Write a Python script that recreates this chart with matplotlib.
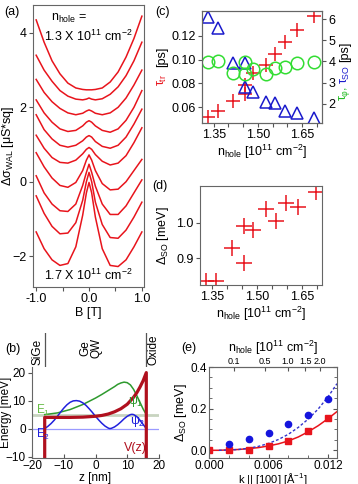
import matplotlib
matplotlib.use("Agg")
import matplotlib.pyplot as plt
import numpy as np

plt.rcParams['font.family'] = ['Liberation Sans', 'DejaVu Sans']
plt.rcParams['font.size'] = 9
plt.rcParams['mathtext.fontset'] = 'custom'
plt.rcParams['mathtext.rm'] = 'Liberation Sans'
plt.rcParams['mathtext.it'] = 'Liberation Sans'
plt.rcParams['axes.edgecolor'] = '#666666'
plt.rcParams['xtick.color'] = '#555555'
plt.rcParams['ytick.color'] = '#555555'
plt.rcParams['xtick.labelcolor'] = 'black'
plt.rcParams['ytick.labelcolor'] = 'black'
plt.rcParams['xtick.major.pad'] = 1.5
plt.rcParams['ytick.major.pad'] = 1.5
plt.rcParams['xtick.major.size'] = 3
plt.rcParams['ytick.major.size'] = 3

# ---- (a) WAL curves, top (1.3e11) to bottom (1.7e11)
b_field = [-1.0, -0.85, -0.7, -0.55, -0.4, -0.25, -0.12, -0.05, 0.0,
           0.05, 0.12, 0.25, 0.4, 0.55, 0.7, 0.85, 1.0]
wal_curves = [
    [4.35, 3.75, 3.25, 2.9, 2.65, 2.52, 2.48, 2.47, 2.47, 2.47, 2.48, 2.52, 2.68, 2.95, 3.35, 3.85, 4.45],
    [3.4, 3.0, 2.7, 2.45, 2.3, 2.22, 2.2, 2.22, 2.25, 2.22, 2.2, 2.23, 2.35, 2.55, 2.85, 3.25, 3.75],
    [2.75, 2.4, 2.15, 1.97, 1.85, 1.8, 1.84, 1.9, 1.93, 1.9, 1.84, 1.8, 1.85, 2.0, 2.25, 2.6, 3.0],
    [2.2, 1.85, 1.6, 1.42, 1.35, 1.38, 1.5, 1.6, 1.64, 1.6, 1.5, 1.38, 1.33, 1.42, 1.65, 2.0, 2.45],
    [1.8, 1.4, 1.15, 0.98, 0.93, 0.98, 1.1, 1.2, 1.24, 1.2, 1.08, 0.95, 0.9, 0.98, 1.2, 1.55, 1.95],
    [1.25, 0.9, 0.65, 0.52, 0.5, 0.58, 0.75, 0.87, 0.92, 0.87, 0.73, 0.55, 0.45, 0.5, 0.7, 1.05, 1.45],
    [0.78, 0.4, 0.1, -0.1, -0.15, -0.02, 0.3, 0.58, 0.72, 0.58, 0.3, -0.05, -0.22, -0.2, 0.0, 0.3, 0.6],
    [0.16, -0.3, -0.6, -0.78, -0.8, -0.6, -0.1, 0.25, 0.47, 0.25, -0.12, -0.6, -0.88, -0.88, -0.65, -0.3, 0.05],
    [-0.38, -0.85, -1.2, -1.4, -1.38, -1.1, -0.5, 0.0, 0.25, 0.0, -0.55, -1.15, -1.5, -1.52, -1.3, -0.95, -0.55],
    [-1.35, -1.8, -2.1, -2.25, -2.2, -1.75, -0.9, -0.3, -0.02, -0.3, -0.95, -1.8, -2.25, -2.28, -2.1, -1.75, -1.35],
]

# ---- (c) scattering times vs density
n_c = [1.329, 1.363, 1.415, 1.456, 1.456, 1.482, 1.527, 1.558, 1.592, 1.634, 1.690]
tau_tr = [0.0518, 0.0566, 0.0653, 0.0707, 0.0786, 0.0889, 0.0954, 0.1047, 0.1146, 0.1247, 0.1371]
tau_so = [6.11, 5.56, 3.91, 3.94, 2.78, 2.54, 2.10, 2.02, 1.67, 1.58, 1.34]
tau_phi = [3.96, 4.03, 3.47, 3.99, 3.41, 3.63, 3.41, 3.70, 3.75, 3.94, 3.96]

# ---- (d) spin splitting vs density
n_d = [1.328, 1.361, 1.415, 1.456, 1.457, 1.485, 1.528, 1.562, 1.596, 1.636, 1.696]
delta_so = [0.837, 0.837, 0.928, 0.888, 0.991, 0.980, 1.038, 1.005, 1.056, 1.043, 1.085]

# ---- (b) potential and wavefunctions
z_v = [-16, -16, -12, -8, -4, 0, 2, 4, 6, 8, 10, 12, 13, 14, 15, 16, 16]
v_z = [-10.5, 4.0, 4.0, 4.0, 4.1, 4.4, 4.7, 5.2, 6.0, 7.1, 8.7, 11.2, 12.8, 14.8, 17.1, 20.0, -10.5]
z_psi1 = [-16, -12, -8, -4, 0, 2, 4, 6, 7, 8, 9, 10, 11, 12, 13, 14, 15, 16]
psi1 = [5.0, 5.6, 6.8, 8.6, 10.9, 12.2, 13.6, 15.0, 15.8, 16.3, 16.6, 16.4, 15.6, 14.0, 11.8, 9.4, 7.0, 5.0]
z_psi2 = [-16, -15, -14, -13, -12, -11, -10, -9, -8, -7, -6, -5, -4, -3, -2, -1, 0, 1, 2, 3, 4, 4.5,
          5, 6, 7, 8, 9, 10, 11, 11.5, 12, 13, 14, 15, 16]
psi2 = [0.0, 0.8, 1.8, 3.0, 4.4, 5.9, 7.3, 8.5, 9.4, 9.9, 10.0, 9.8, 9.2, 8.3, 7.1, 5.8, 4.4, 3.1, 1.9, 0.9, 0.2, 0.0,
        0.1, 0.6, 1.4, 2.4, 3.5, 4.4, 5.0, 5.1, 5.0, 4.3, 3.0, 1.5, 0.0]
e1_level = 5.0
e2_level = 0.0

# ---- (e) spin splitting vs k
k_red = [0.0, 0.002, 0.004, 0.006, 0.008, 0.010, 0.012]
dso_red = [0.0, 0.0, 0.003, 0.023, 0.045, 0.095, 0.153]
k_blue = [0.002, 0.004, 0.006, 0.008, 0.010, 0.012]
dso_blue = [0.031, 0.052, 0.083, 0.126, 0.171, 0.245]
k_fit = [0.0, 0.001, 0.002, 0.003, 0.004, 0.005, 0.006, 0.007, 0.008, 0.009, 0.010, 0.011, 0.012, 0.0129]
fit_red = [0.0, 0.0, 0.002, 0.004, 0.008, 0.013, 0.021, 0.031, 0.045, 0.064, 0.089, 0.118, 0.152, 0.186]
k_fit_blue = [0.001, 0.002, 0.003, 0.004, 0.005, 0.006, 0.007, 0.008, 0.009, 0.010, 0.011, 0.012, 0.0129]
fit_blue = [0.0, 0.001, 0.004, 0.010, 0.019, 0.033, 0.052, 0.077, 0.110, 0.150, 0.198, 0.257, 0.320]
n_top_ticks = [0.1, 0.5, 1.0, 1.5, 2.0]

W, H = 358, 484
fig = plt.figure(figsize=(W / 100, H / 100), dpi=100)


def px_axes(x0, y0, x1, y1):
    return fig.add_axes([x0 / W, (H - y1) / H, (x1 - x0) / W, (y1 - y0) / H])


red = '#e8141c'

# ---------------- (a)
ax_a = px_axes(33, 5, 144, 287)
for vals in wal_curves:
    ax_a.plot(b_field, vals, color=red, lw=1.1)
ax_a.set_xlim(-1.06, 1.04)
ax_a.set_ylim(-2.83, 4.75)
ax_a.set_xticks([-1.0, -0.5, 0.0, 0.5, 1.0])
ax_a.set_xticklabels(['-1.0', '', '0.0', '', '1.0'])
ax_a.set_yticks([-2, 0, 2, 4])
ax_a.set_xlabel('B [T]', labelpad=1)
ax_a.set_ylabel(r'$\Delta\sigma_{\rm WAL}$ [$\mu$S*sq]')
ax_a.yaxis.set_label_coords(-0.155, 0.5)
ax_a.text(0.16, 0.975, r'n$_{\rm hole}$ =', transform=ax_a.transAxes, va='top')
ax_a.text(0.1, 0.915, r'1.3 X 10$^{11}$ cm$^{-2}$', transform=ax_a.transAxes, va='top')
ax_a.text(0.5, 0.015, r'1.7 X 10$^{11}$ cm$^{-2}$', transform=ax_a.transAxes, ha='center', va='bottom')
fig.text(4 / W, 1 - 12 / H, '(a)', va='center')

# ---------------- (c)
ax_c = px_axes(202, 11, 322, 123)
ax_c.plot(n_c, tau_tr, '+', color=red, ms=10, mew=1.1)
ax_c.set_xlim(1.31, 1.718)
ax_c.set_ylim(0.0465, 0.141)
ax_c.set_yticks([0.06, 0.08, 0.10, 0.12])
ax_c.set_yticklabels(['0.06', '0.08', '0.10', '0.12'])
ax_c.set_xticks(np.arange(1.35, 1.71, 0.05))
ax_c.set_xticklabels(['1.35', '', '', '1.50', '', '', '1.65', ''])
ax_c.set_xlabel(r'n$_{\rm hole}$ [10$^{11}$ cm$^{-2}$]', labelpad=1)
ax_c2 = ax_c.twinx()
ax_c2.plot(n_c, tau_so, '^', mfc='none', mec='#1a1acc', ms=9, mew=1.1)
ax_c2.plot(n_c, tau_phi, 'o', mfc='none', mec='#33dd33', ms=9, mew=1.1)
ax_c2.set_ylim(1.1, 6.38)
ax_c2.set_yticks([2, 3, 4, 5, 6])
fig.text(162 / W, 1 - 57 / H, '[ps]', rotation=90, ha='center', va='center')
fig.text(162 / W, 1 - 80 / H, r'$\tau_{\rm tr}$', rotation=90, ha='center', va='center', color=red)
fig.text(345 / W, 1 - 52 / H, '[ps]', rotation=90, ha='center', va='center')
fig.text(345 / W, 1 - 74 / H, r'$\tau_{\rm SO}$', rotation=90, ha='center', va='center', color='#1a1acc')
fig.text(345 / W, 1 - 93 / H, r'$\tau_{\varphi}$,', rotation=90, ha='center', va='center', color='#22bb22')
fig.text(155 / W, 1 - 12 / H, '(c)', va='center')

# ---------------- (d)
ax_d = px_axes(200, 186, 322, 285)
ax_d.plot(n_d, delta_so, '+', color=red, ms=11, mew=1.1)
ax_d.set_xlim(1.309, 1.715)
ax_d.set_ylim(0.825, 1.103)
ax_d.set_yticks([0.9, 1.0])
ax_d.set_xticks(np.arange(1.35, 1.71, 0.05))
ax_d.set_xticklabels(['1.35', '', '', '1.50', '', '', '1.65', ''])
ax_d.set_xlabel(r'n$_{\rm hole}$ [10$^{11}$ cm$^{-2}$]', labelpad=1)
ax_d.set_ylabel(r'$\Delta_{\rm SO}$ [meV]', labelpad=4)
fig.text(152 / W, 1 - 186 / H, '(d)', va='center')

# ---------------- (b)
ax_b = px_axes(32, 367, 159, 458)
ax_b.axhline(e1_level, color='#c8d4c0', lw=2.0)
ax_b.axhline(e2_level, color='#9a9aff', lw=0.9)
ax_b.plot(z_psi1, psi1, color='#2e9a2e', lw=1.1)
ax_b.plot(z_psi2, psi2, color='#2020dd', lw=1.1)
ax_b.plot(z_v, v_z, color='#b0101e', lw=2.3)
ax_b.set_xlim(-20, 20)
ax_b.set_ylim(-10.5, 22)
ax_b.set_xticks([-20, -10, 0, 10, 20])
ax_b.set_yticks([-10, 0, 10, 20])
ax_b.tick_params(labelsize=8.5)
ax_b.tick_params(axis='x', direction='in', pad=1.5)
ax_b.spines['top'].set_visible(False)
ax_b.spines['right'].set_visible(False)
ax_b.set_xlabel('z [nm]', fontsize=8.5)
ax_b.xaxis.set_label_coords(0.5, -0.15)
ax_b.set_ylabel('Energy [meV]', fontsize=8.5)
ax_b.yaxis.set_label_coords(-0.16, 0.5)
ax_b.text(-18.6, 6.5, r'E$_1$', color='#66bb44', fontsize=8.5, va='center')
ax_b.text(-18.6, -2.0, r'E$_2$', color='#2020dd', fontsize=8.5, va='center')
ax_b.text(10.3, 9.6, r'$\psi_1$', color='#2e9a2e', va='center')
ax_b.text(10.8, 2.4, r'$\psi_2$', color='#2020dd', va='center')
ax_b.text(8.8, -6.8, 'V(z)', color='#b0101e', va='center')

ax_h = px_axes(32, 333, 159, 367)
ax_h.set_xlim(-20, 20)
ax_h.set_ylim(0, 1)
ax_h.axis('off')
ax_h.axvline(-16, color='#555555', lw=0.9)
ax_h.axvline(16, color='#555555', lw=0.9)
ax_h.text(-18.2, 0.45, 'SiGe', rotation=90, ha='center', va='center', fontsize=8.5)
ax_h.text(-1.5, 0.55, 'Ge\nQW', rotation=90, ha='center', va='center', linespacing=0.95, fontsize=8.5)
ax_h.text(18.2, 0.5, 'Oxide', rotation=90, ha='center', va='center', fontsize=8.5)
fig.text(5 / W, 1 - 349 / H, '(b)', va='center')

# ---------------- (e)
ax_e = px_axes(209, 367, 337, 458)
ax_e.plot(k_fit, fit_red, '-', color=red, lw=1.1)
ax_e.plot(k_fit_blue, fit_blue, '--', color='#3333cc', lw=1.0, dashes=(2, 1.5))
ax_e.plot(k_red, dso_red, 's', color=red, ms=4.5)
ax_e.plot(k_blue, dso_blue, 'o', color='#1515dd', ms=4.5)
ax_e.set_xlim(0, 0.0129)
ax_e.set_ylim(-0.037, 0.4)
ax_e.set_yticks([0.0, 0.2, 0.4])
ax_e.set_yticks(np.arange(0, 0.41, 0.05), minor=True)
ax_e.set_xticks([0.0, 0.006, 0.012])
ax_e.set_xticklabels(['0.000', '0.006', '0.012'])
ax_e.set_xticks(np.arange(0, 0.0129, 0.002), minor=True)
ax_e.tick_params(which='both', direction='in', right=True, labelsize=8.5)
ax_e.set_xlabel('k || [100] [Å$^{-1}$]', fontsize=8)
ax_e.xaxis.set_label_coords(0.5, -0.14)
ax_e.set_ylabel(r'$\Delta_{\rm SO}$ [meV]', labelpad=1)


def k_to_n(k):
    return np.asarray(k) ** 2 * 1e5 / (2 * np.pi)


def n_to_k(n):
    return np.sqrt(np.clip(np.asarray(n, dtype=float), 0, None) * 2 * np.pi / 1e5)


sec = ax_e.secondary_xaxis('top', functions=(k_to_n, n_to_k))
sec.set_xticks(n_top_ticks)
sec.set_xticklabels(['0.1', '0.5', '1.0', '1.5', '2.0'])
sec.tick_params(direction='in', pad=1, labelsize=6.5)
sec.set_xlabel(r'n$_{\rm hole}$ [10$^{11}$ cm$^{-2}$]', labelpad=3)
fig.text(181 / W, 1 - 348 / H, '(e)', va='center')

fig.savefig('out.png', dpi=100)
